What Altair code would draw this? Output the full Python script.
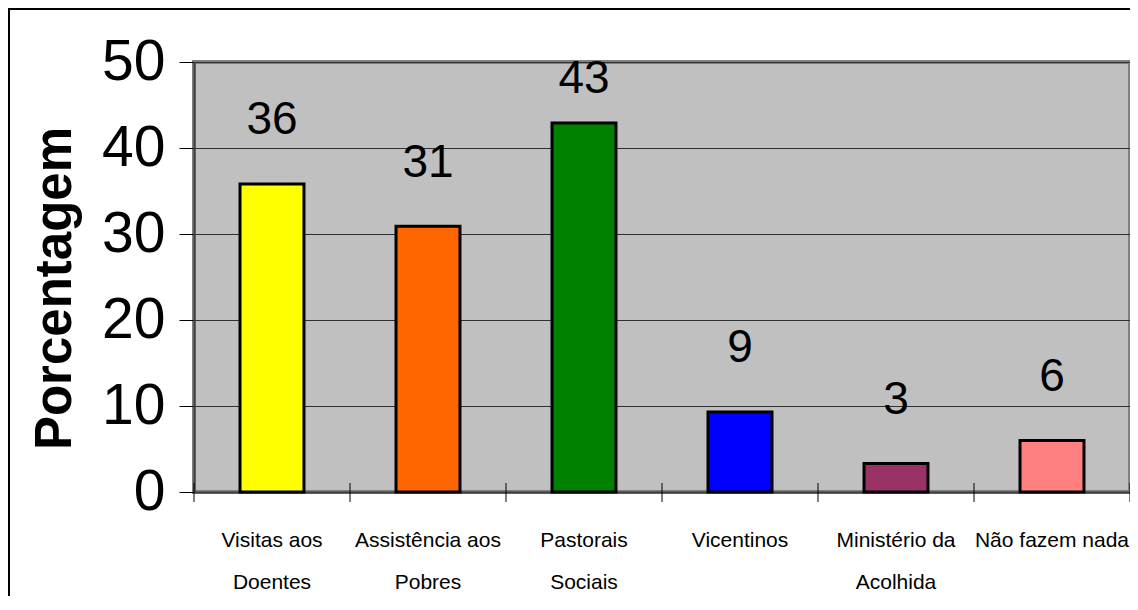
import altair as alt
import pandas as pd

categories = [
    "Visitas aos\nDoentes",
    "Assistência aos\nPobres",
    "Pastorais\nSociais",
    "Vicentinos",
    "Ministério da\nAcolhida",
    "Não fazem nada",
]
values = [35.8, 30.9, 42.9, 9.3, 3.3, 6.0]
value_labels = ["36", "31", "43", "9", "3", "6"]
colors = ["#FFFF00", "#FF6600", "#008000", "#0000FF", "#993366", "#FF8080"]
y_ticks = [0, 10, 20, 30, 40, 50]

df = pd.DataFrame({"cat": categories, "value": values, "label": value_labels, "color": colors})

W, H = 936, 430
SANS = "Liberation Sans, Arial"

x_enc = alt.X(
    "cat:N",
    sort=None,
    scale=alt.Scale(paddingInner=0, paddingOuter=0),
    axis=alt.Axis(
        title=None,
        labelAngle=0,
        labelExpr="split(datum.label, '\\n')",
        labelFont=SANS,
        labelFontSize=21,
        labelColor="#000000",
        labelLineHeight=42,
        labelBaseline="top",
        labelPadding=37,
        labelLimit=400,
        ticks=False,
        domainColor="#404040",
        domainWidth=2,
    ),
)

base = alt.Chart(df)

bars = base.mark_bar(width={"band": 0.41}, stroke="#000000", strokeWidth=3).encode(
    x=x_enc,
    y=alt.Y(
        "value:Q",
        scale=alt.Scale(domain=[0, 50], nice=False),
        axis=alt.Axis(
            title="Porcentagem",
            titleFont=SANS,
            titleFontSize=51,
            titleFontWeight="bold",
            titleColor="#000000",
            titlePadding=20,
            titleY=226,
            values=y_ticks,
            labelFont=SANS,
            labelFontSize=57,
            labelColor="#000000",
            labelPadding=14,
            tickSize=15,
            tickColor="#000000",
            tickWidth=1,
            grid=True,
            gridColor="#303030",
            gridWidth=1,
            domainColor="#404040",
            domainWidth=2,
        ),
    ),
    fill=alt.Fill("color:N", scale=None),
)

labels = base.transform_calculate(
    lpos="min(datum.value + 7.4, 48)"
).mark_text(font=SANS, fontSize=46, color="#000000", baseline="middle").encode(
    x=alt.X("cat:N", sort=None),
    y=alt.Y("lpos:Q"),
    text="label:N",
)

xticks = base.mark_rule(color="#000000", strokeWidth=1).encode(
    x=alt.X("cat:N", sort=None, bandPosition=0),
    y=alt.value(H - 9),
    y2=alt.value(H + 10),
)

end_tick = alt.Chart(pd.DataFrame({"t": [0]})).mark_rule(color="#000000", strokeWidth=1).encode(
    x=alt.value(W),
    y=alt.value(H - 9),
    y2=alt.value(H + 10),
)

frame = base.mark_rect(fill=None, stroke="#000000", strokeWidth=2).encode(
    x=alt.value(-185),
    x2=alt.value(W + 40),
    y=alt.value(-53),
    y2=alt.value(H + 200),
)

chart = (
    alt.layer(bars, xticks, end_tick, labels, frame)
    .properties(
        width=W,
        height=H,
        autosize=alt.AutoSizeParams(type="none"),
        padding={"left": 186, "top": 54, "right": 0, "bottom": 104},
        background="#FFFFFF",
    )
    .configure_view(fill="#C0C0C0", stroke="#808080", strokeWidth=4)
)

chart.save("out.html", embed_options={"renderer": "svg", "actions": False})
